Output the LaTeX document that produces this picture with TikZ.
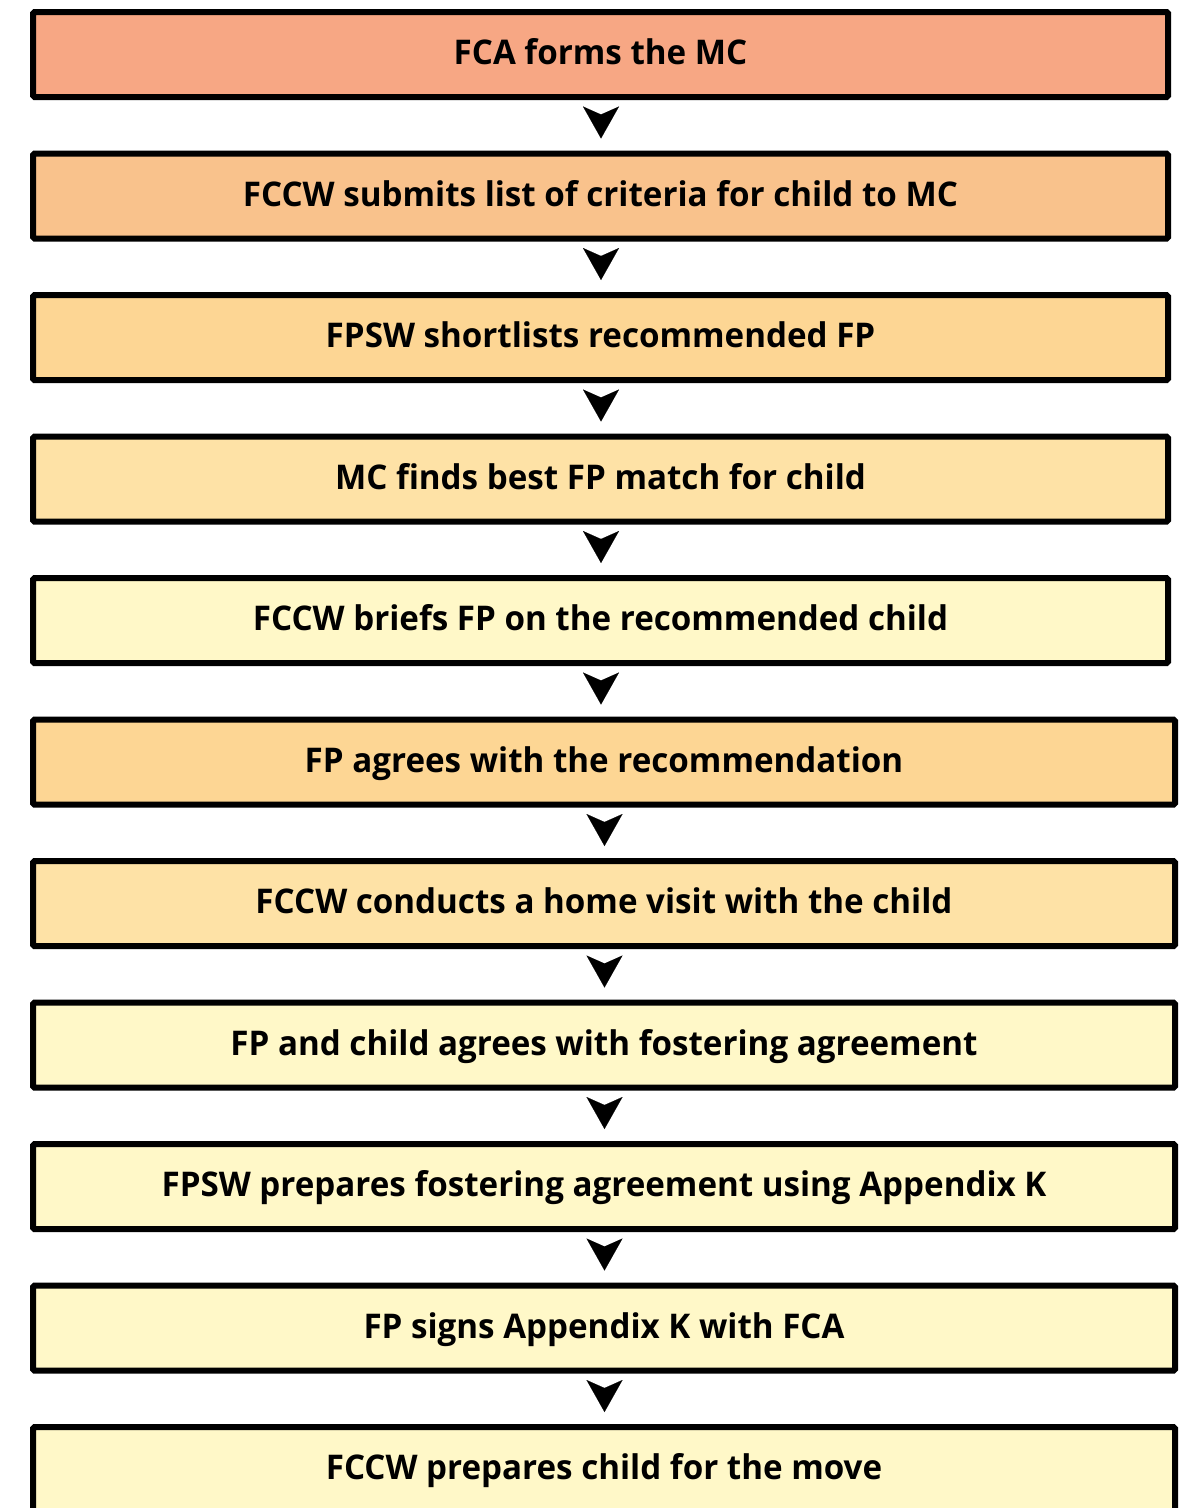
\documentclass[tikz,border=0pt]{standalone}
\usepackage{fontspec}
\setmainfont{Open Sans}[FakeStretch=0.975]
\usetikzlibrary{arrows.meta,calc}
\definecolor{cA}{HTML}{F7A784}
\definecolor{cB}{HTML}{F9C28C}
\definecolor{cC}{HTML}{FDD694}
\definecolor{cD}{HTML}{FEE2A6}
\definecolor{cE}{HTML}{FFF8C8}
\tikzset{
  stepbox/.style={draw=black, line width=6pt, rounded corners=1.5pt, inner sep=0pt,
    minimum height=85pt, text height=25pt, text depth=5pt,
    font=\fontsize{34}{40}\selectfont\bfseries},
  narrowbox/.style={stepbox, minimum width=1135pt},
  widebox/.style={stepbox, minimum width=1142pt},
  flowarrow/.style={line width=0.1pt, -{Stealth[length=32pt,width=36pt,inset=8pt]}}
}
\begin{document}
\begin{tikzpicture}[x=1pt,y=-1pt]
\useasboundingbox (0,0) rectangle (1182,1508);
\clip (0,0) rectangle (1182,1508);
\node[narrowbox, fill=cA] (b1) at (600.5, 54.5) {FCA forms the MC};
\node[narrowbox, fill=cB] (b2) at (600.5, 196.0) {FCCW submits list of criteria for child to MC};
\node[narrowbox, fill=cC] (b3) at (600.5, 337.5) {FPSW shortlists recommended FP};
\node[narrowbox, fill=cD] (b4) at (600.5, 479.0) {MC finds best FP match for child};
\node[narrowbox, fill=cE] (b5) at (600.5, 620.5) {FCCW briefs FP on the recommended child};
\node[widebox, fill=cC] (b6) at (604, 762.0) {FP agrees with the recommendation};
\node[widebox, fill=cD] (b7) at (604, 903.5) {FCCW conducts a home visit with the child};
\node[widebox, fill=cE] (b8) at (604, 1045.0) {FP and child agrees with fostering agreement};
\node[widebox, fill=cE] (b9) at (604, 1186.5) {FPSW prepares fostering agreement using Appendix K};
\node[widebox, fill=cE] (b10) at (604, 1328.0) {FP signs Appendix K with FCA};
\node[widebox, fill=cE] (b11) at (604, 1469.5) {FCCW prepares child for the move};
\foreach \a/\b in {b1/b2,b2/b3,b3/b4,b4/b5,b5/b6,b6/b7,b7/b8,b8/b9,b9/b10,b10/b11}{
  \coordinate (s) at ($(\a.south)+(0.5,19)$);
  \coordinate (t) at ($(\b.north)+(0,-12)$);
  \draw[flowarrow] (s) -- (s |- t);
}
\end{tikzpicture}
\end{document}
